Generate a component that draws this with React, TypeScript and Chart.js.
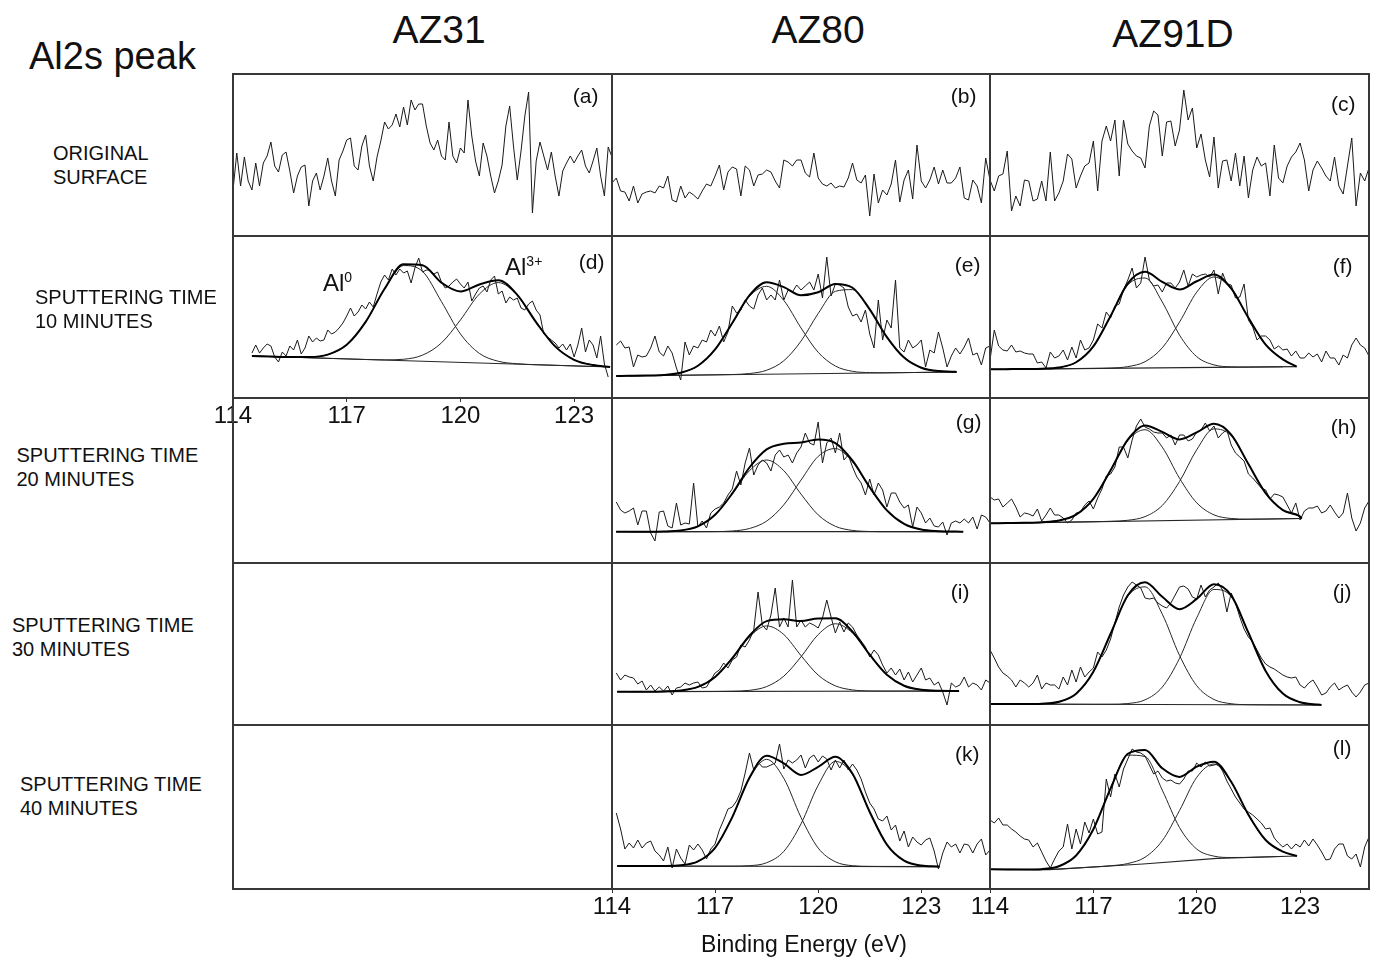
import React, { useEffect, useRef } from "react";
import { Chart, registerables } from "chart.js";

Chart.register(...registerables);

// ---------------- text ----------------
const FIGURE_TITLE = "Al2s peak";
const ALLOY_NAMES = ["AZ31", "AZ80", "AZ91D"];
const ROW_TITLES = [
  ["ORIGINAL", "SURFACE"],
  ["SPUTTERING TIME", "10 MINUTES"],
  ["SPUTTERING TIME", "20 MINUTES"],
  ["SPUTTERING TIME", "30 MINUTES"],
  ["SPUTTERING TIME", "40 MINUTES"],
];
const X_AXIS_TITLE = "Binding Energy (eV)";
const X_TICK_VALUES = [114, 117, 120, 123];

// ---------------- energy windows (eV) per column ----------------
const AZ31_ENERGY = [114, 124];
const AZ80_ENERGY = [114, 125];
const AZ91D_ENERGY = [114, 125];
const COLUMN_ENERGY = [AZ31_ENERGY, AZ80_ENERGY, AZ91D_ENERGY];

// ---------------- raw spectra (intensity, a.u.) ----------------
// (a) AZ31 original surface, 114.0 eV step 0.1
const rawA = [46,83,50,79,55,46,73,50,73,80,94,70,64,81,84,65,43,60,69,71,30,55,63,46,60,78,55,40,76,85,96,98,70,66,90,101,70,55,79,95,114,107,111,122,109,129,111,136,126,132,132,110,93,86,96,80,76,114,80,73,88,83,136,100,75,60,93,80,60,43,55,71,110,130,90,56,85,120,144,23,75,94,80,66,84,60,40,65,73,80,73,80,86,70,63,75,88,60,40,89,79];
// (b) AZ80 original surface, 114.0 eV step 0.125
const rawB = [53,58,45,44,35,50,33,42,44,45,43,50,48,60,36,34,50,38,44,41,37,45,52,50,60,71,46,64,69,67,40,70,66,50,61,62,66,64,55,48,76,74,70,76,76,63,59,83,58,52,50,53,48,50,49,58,73,56,53,61,20,62,33,46,41,52,76,34,56,66,37,91,55,48,56,69,52,66,53,53,58,69,38,36,56,50,33,78,56];
// (c) AZ91D original surface, 114.0 eV step 0.125
const rawC = [56,45,60,62,85,25,40,30,56,55,35,37,55,35,84,35,43,55,82,77,48,60,70,73,95,45,95,110,95,116,60,116,92,85,80,78,68,110,125,121,80,114,115,90,106,146,116,128,88,102,76,59,99,48,75,76,55,83,50,80,38,66,79,70,73,40,91,58,53,70,79,84,93,76,45,66,75,68,60,55,79,50,42,70,98,30,63,55,68];
// (d) AZ31 10 min, 114.5 eV step 0.1
const rawD = [45,53,45,50,54,52,41,36,46,42,52,48,58,44,50,62,56,60,57,58,68,64,66,70,75,82,90,82,86,93,89,96,91,104,116,123,118,129,123,129,125,127,115,130,140,126,128,128,124,126,116,110,112,116,119,114,110,116,97,104,110,112,106,118,122,104,107,95,101,98,100,90,88,94,97,88,83,64,61,58,55,50,54,48,54,41,53,70,46,58,53,40,62,34,21];
// (e) AZ80 10 min, 114.125 eV step 0.125
const rawE = [53,57,50,51,31,43,41,42,50,62,46,42,52,45,30,18,56,43,52,50,58,56,68,62,72,56,66,92,85,88,98,92,89,103,110,98,103,98,118,98,108,106,113,108,112,116,108,124,100,141,102,114,113,110,91,82,84,76,88,64,50,98,58,78,70,118,50,46,58,50,53,58,31,48,45,66,50,31,42,50,44,51,60,43,45,33,50,52];
// (f) AZ91D 10 min, 114.0 eV step 0.125
const rawF = [38,68,52,48,47,53,46,47,45,44,44,35,36,30,46,40,42,48,38,51,40,58,48,50,58,74,70,86,80,92,94,108,118,130,110,115,141,118,112,113,106,115,115,110,116,128,112,124,121,123,124,121,128,104,125,114,113,100,101,114,78,71,58,62,62,58,49,52,48,49,42,47,40,40,45,41,44,36,47,40,40,33,43,40,53,60,53,50,42];
// (g) AZ80 20 min, 114.125 eV step 0.125
const rawG = [61,53,50,52,55,38,52,52,30,22,51,52,37,35,60,38,40,39,80,36,42,35,50,54,56,60,68,74,92,78,100,115,88,98,103,100,92,108,113,106,108,100,110,116,130,120,118,141,100,120,125,110,130,103,108,96,86,80,68,84,68,80,73,56,70,70,61,55,58,36,56,50,40,45,37,36,41,28,40,42,40,44,40,46,34,48,46,40];
// (h) AZ91D 20 min, 114.0 eV step 0.125
const rawH = [66,63,64,56,60,64,56,46,50,49,47,54,42,48,55,48,48,45,40,43,50,51,58,62,54,65,74,87,89,96,116,116,105,123,137,144,136,134,131,130,130,125,128,118,128,128,122,124,131,133,140,132,137,125,130,133,118,110,106,102,89,85,80,75,73,64,69,68,66,58,50,60,43,52,55,55,57,50,52,58,51,45,50,70,45,32,40,55,62];
// (i) AZ80 30 min, 114.125 eV step 0.125
const rawI = [52,45,50,48,47,41,44,35,40,34,38,34,39,30,37,38,42,40,42,43,37,38,45,52,55,62,57,65,68,80,78,85,95,133,100,95,110,137,98,107,98,145,98,105,98,102,100,97,107,125,108,92,103,93,102,98,90,84,78,68,75,70,60,52,57,50,56,45,53,43,50,57,45,47,40,43,33,20,42,38,40,48,38,42,40,35,45,42];
// (j) AZ91D 30 min, 114.0 eV step 0.125
const rawJ = [75,67,58,52,49,45,38,45,42,38,42,50,36,42,40,40,36,48,40,55,43,58,48,53,57,73,68,75,86,102,118,130,138,143,140,137,127,126,127,122,119,117,122,130,138,139,136,128,126,140,128,135,138,142,135,113,132,122,108,96,88,83,75,67,61,58,56,53,50,48,47,48,40,37,42,45,38,30,32,38,42,35,38,40,33,28,33,40,42];
// (k) AZ80 40 min, 114.125 eV step 0.125
const rawK = [76,60,40,46,41,49,41,46,48,38,34,28,42,21,40,31,25,44,39,45,39,30,40,45,59,69,80,82,88,98,116,136,119,127,122,122,124,126,145,120,129,126,129,134,121,131,134,127,133,130,119,129,121,129,119,125,119,110,97,86,80,70,68,73,59,64,48,58,42,52,47,44,49,51,38,20,36,47,42,45,36,45,44,36,45,50,34,39];
// (l) AZ91D 40 min, 114.0 eV step 0.125
const rawL = [69,66,71,64,64,60,57,53,50,49,42,46,37,28,21,30,38,42,65,40,60,45,67,56,70,55,57,110,92,115,102,120,130,140,137,136,133,124,115,118,111,108,109,106,105,110,118,118,126,122,127,123,124,125,118,108,100,92,86,80,77,74,70,66,60,61,51,46,42,45,40,45,42,49,43,50,44,37,29,30,40,45,45,33,30,35,22,42,52];

// ---------------- fitted peaks: height above background at 114.5, 115.0, ... eV ----------------
const FIT_START = 114.5;
const FIT_STEP = 0.5;

const al0D = [0,0,0.1,0.7,3.7,14.1,37.6,71.1,95.1,89.9,60.2,28.5,9.6,2.3,0.4,0,0,0,0];
const al3D = [0,0,0,0,0,0,0,0.2,1.4,6.1,18.9,42.4,68.9,81,68.9,42.4,18.9,6.1,1.4];
const bgD = [[114.5, 42], [123.95, 31]];

const al0E = [0,0.1,0.5,2.5,9.3,25.4,51.6,78.1,87.9,73.6,45.9,21.3,7.4,1.9,0.4,0,0,0,0,0];
const al3E = [0,0,0,0,0,0,0.1,0.9,4.0,13.3,32.7,60.1,82.1,83.6,63.3,35.7,15.0,4.7,1.1,0.2];
const bgE = [[114.12, 22], [124.03, 26]];

const al0F = [0,0,0.2,1.2,6.3,22.0,52.1,83.2,90.0,65.9,32.6,10.9,2.5,0.4,0,0,0];
const al3F = [0,0,0,0,0,0,0.2,1.5,6.3,20.0,45.6,75.4,90.4,78.4,49.3,22.4,7.4];
const bgF = [[114.0, 28.7], [122.9, 31.3]];

const al0G = [0,0,0.2,1.3,5.4,16.8,37.6,61.0,71.7,61.0,37.6,16.8,5.4,1.3,0.2,0,0,0,0,0];
const al3G = [0,0,0,0,0,0.1,0.7,3.2,10.6,26.9,51.6,75.3,83.2,69.7,44.2,21.3,7.8,2.1,0.5,0.1];
const bgG = [[114.12, 31.3], [124.22, 31.3]];

const al0H = [0,0,0.3,1.7,7.4,22.9,51.0,80.7,91.2,73.5,42.2,17.3,5.0,1.1,0.2,0,0,0];
const al3H = [0,0,0,0,0,0,0.1,0.9,4.3,15.2,38.8,70.4,91.0,83.9,55.1,25.9,8.7,2.1];
const bgH = [[114.0, 39.7], [123.05, 44.5]];

const al0I = [0,0,0.2,1.1,4.6,14.5,33.0,54.6,65.5,56.8,35.7,16.2,5.4,1.3,0.2,0,0,0,0,0];
const al3I = [0,0,0,0,0,0,0.2,1.1,4.8,15.2,34.5,56.7,67.5,58.2,36.3,16.4,5.4,1.3,0.2,0];
const bgI = [[114.15, 33.3], [124.1, 34]];

const al0J = [0,0,0.4,2.4,10.6,32.5,70.5,108.2,117.6,90.4,49.2,18.9,5.2,1.0,0.1,0,0,0,0];
const al3J = [0,0,0,0,0,0,0.1,0.9,4.6,17.4,46.2,86.8,115.2,108.3,72.0,33.9,11.3,2.7,0.4];
const bgJ = [[114.0, 21], [123.62, 20]];

const al0K = [0,0,0.1,0.8,4.7,18.4,49.0,88.0,107,88.0,49.0,18.4,4.7,0.8,0.1,0,0,0,0];
const al3K = [0,0,0,0,0,0,0.1,0.6,3.6,15.0,42.5,81.2,105.1,92.0,54.5,21.9,5.9,1.1,0.1];
const bgK = [[114.15, 23], [123.53, 22.3]];

const al0L = [0,0,0.5,2.9,12.6,37.7,77.4,109.8,107.3,72.4,33.7,10.8,2.4,0.4,0,0,0,0];
const al3L = [0,0,0,0,0,0,0.2,1.4,6.6,21.8,50.6,82.5,94.5,75.8,42.7,16.9,4.7,0.9];
const bgL = [[114.0, 19.7], [115.72, 19.3], [118.44, 25], [120.59, 30.7], [122.91, 33]];

// ---------------- panel table ----------------
type Fit = { al0: number[]; al3: number[]; bg: number[][] };
type PanelSpec = {
  tag: string; row: number; col: number;
  raw: number[]; start: number; step: number;
  fit?: Fit; axis?: boolean;
  tagRight: number; tagMid: number;
};

const PANELS: PanelSpec[] = [
  { tag: "(a)", row: 0, col: 0, raw: rawA, start: 114.0, step: 0.1, tagRight: 597, tagMid: 97 },
  { tag: "(b)", row: 0, col: 1, raw: rawB, start: 114.0, step: 0.125, tagRight: 975, tagMid: 97 },
  { tag: "(c)", row: 0, col: 2, raw: rawC, start: 114.0, step: 0.125, tagRight: 1354, tagMid: 105 },
  { tag: "(d)", row: 1, col: 0, raw: rawD, start: 114.5, step: 0.1, fit: { al0: al0D, al3: al3D, bg: bgD }, axis: true, tagRight: 603, tagMid: 263 },
  { tag: "(e)", row: 1, col: 1, raw: rawE, start: 114.125, step: 0.125, fit: { al0: al0E, al3: al3E, bg: bgE }, tagRight: 979, tagMid: 266 },
  { tag: "(f)", row: 1, col: 2, raw: rawF, start: 114.0, step: 0.125, fit: { al0: al0F, al3: al3F, bg: bgF }, tagRight: 1351, tagMid: 267 },
  { tag: "(g)", row: 2, col: 1, raw: rawG, start: 114.125, step: 0.125, fit: { al0: al0G, al3: al3G, bg: bgG }, tagRight: 980, tagMid: 423 },
  { tag: "(h)", row: 2, col: 2, raw: rawH, start: 114.0, step: 0.125, fit: { al0: al0H, al3: al3H, bg: bgH }, tagRight: 1355, tagMid: 428 },
  { tag: "(i)", row: 3, col: 1, raw: rawI, start: 114.125, step: 0.125, fit: { al0: al0I, al3: al3I, bg: bgI }, tagRight: 968, tagMid: 593 },
  { tag: "(j)", row: 3, col: 2, raw: rawJ, start: 114.0, step: 0.125, fit: { al0: al0J, al3: al3J, bg: bgJ }, tagRight: 1350, tagMid: 593 },
  { tag: "(k)", row: 4, col: 1, raw: rawK, start: 114.125, step: 0.125, fit: { al0: al0K, al3: al3K, bg: bgK }, axis: true, tagRight: 978, tagMid: 755 },
  { tag: "(l)", row: 4, col: 2, raw: rawL, start: 114.0, step: 0.125, fit: { al0: al0L, al3: al3L, bg: bgL }, axis: true, tagRight: 1350, tagMid: 749 },
];

// ---------------- layout ----------------
const COL_X = [233, 612, 990, 1369];
const ROW_Y = [74, 236, 398, 563, 725, 889];
const PADX = 30;
const AXIS_H = 40;
const FONT = '"Liberation Sans", Arial, Helvetica, sans-serif';

function bgAt(bg: number[][], x: number) {
  for (let i = 0; i < bg.length - 1; i++) {
    const [x0, y0] = bg[i];
    const [x1, y1] = bg[i + 1];
    if (x <= x1 || i === bg.length - 2) return y0 + ((y1 - y0) * (x - x0)) / (x1 - x0);
  }
  return bg[0][1];
}

function Panel({ spec }: { spec: PanelSpec }) {
  const ref = useRef<HTMLCanvasElement>(null);
  const left = COL_X[spec.col];
  const w = COL_X[spec.col + 1] - left;
  const top = ROW_Y[spec.row];
  const h = ROW_Y[spec.row + 1] - top;
  const cw = w + 2 * PADX;
  const ch = h + (spec.axis ? AXIS_H : 0);

  useEffect(() => {
    const canvas = ref.current;
    if (!canvas) return;
    const mk = (data: any[], width: number, color: string, smooth: boolean) => ({
      data,
      borderColor: color,
      borderWidth: width,
      pointRadius: 0,
      fill: false,
      tension: 0,
      cubicInterpolationMode: smooth ? "monotone" : "default",
    });
    const datasets: any[] = [];
    if (spec.fit) {
      const { al0, al3, bg } = spec.fit;
      const x0 = bg[0][0];
      const x1 = bg[bg.length - 1][0];
      const c1: any[] = [];
      const c2: any[] = [];
      const env: any[] = [];
      for (let i = 0; i < al0.length; i++) {
        const x = +(FIT_START + i * FIT_STEP).toFixed(3);
        if (x < x0 - 1e-6 || x > x1 + 1e-6) continue;
        const b = bgAt(bg, x);
        c1.push({ x, y: b + al0[i] });
        c2.push({ x, y: b + al3[i] });
        env.push({ x, y: b + al0[i] + al3[i] });
      }
      if (env.length && Math.abs(env[0].x - x0) > 1e-6) env.unshift({ x: x0, y: bg[0][1] });
      if (env.length && Math.abs(env[env.length - 1].x - x1) > 1e-6) env.push({ x: x1, y: bg[bg.length - 1][1] });
      datasets.push(mk(env, 2, "#000", true));
      datasets.push(mk(c1, 1, "#262626", true));
      datasets.push(mk(c2, 1, "#262626", true));
      datasets.push(mk(bg.map(([x, y]) => ({ x, y })), 1.2, "#262626", false));
    }
    const raw = spec.raw.map((y, i) => ({ x: +(spec.start + i * spec.step).toFixed(3), y }));
    datasets.push(mk(raw, 1, "#1a1a1a", false));

    const range = COLUMN_ENERGY[spec.col];
    const showAxis = !!spec.axis;
    const chart = new Chart(canvas, {
      type: "line",
      data: { datasets },
      options: {
        animation: false,
        responsive: false,
        maintainAspectRatio: false,
        events: [],
        layout: { padding: { left: PADX, right: PADX, top: 0, bottom: 0 }, autoPadding: false },
        plugins: { legend: { display: false }, tooltip: { enabled: false }, title: { display: false } },
        scales: {
          x: {
            type: "linear",
            min: range[0],
            max: range[1],
            display: showAxis,
            afterBuildTicks: (s: any) => {
              s.ticks = X_TICK_VALUES.map((v) => ({ value: v }));
            },
            afterFit: (s: any) => {
              s.height = showAxis ? AXIS_H : 0;
            },
            grid: { display: true, drawOnChartArea: false, drawTicks: true, tickLength: 4, color: "#333" },
            border: { display: false },
            ticks: {
              autoSkip: false,
              maxRotation: 0,
              minRotation: 0,
              padding: 0,
              color: "#111",
              font: { family: FONT, size: 24 },
              callback: (v: any) => String(v),
            },
          },
          y: { display: false, min: 0, max: h },
        },
      } as any,
    });
    return () => chart.destroy();
  }, [spec]);

  return (
    <canvas
      ref={ref}
      width={cw}
      height={ch}
      style={{ position: "absolute", left: left - PADX, top, width: cw, height: ch }}
    />
  );
}

const PAGE_W = 1377;

export default function App() {
  const lineColor = "#383838";
  const text = (s: React.CSSProperties): React.CSSProperties => ({
    position: "absolute",
    fontFamily: FONT,
    color: "#111",
    whiteSpace: "nowrap",
    lineHeight: 1,
    ...s,
  });
  const titleCenters = [439, 818, 1173];
  const titleTops = [10, 10, 14];
  const rowLeft = [53, 35, 16.5, 12, 20];
  const rowTop = [141, 285, 443, 613, 772];
  return (
    <div style={{ position: "absolute", left: 0, top: 0, width: PAGE_W, height: 963, background: "#fff", overflow: "hidden" }}>
      {PANELS.map((p) => (
        <Panel key={p.tag} spec={p} />
      ))}
      {COL_X.map((x) => (
        <div key={"v" + x} style={{ position: "absolute", left: x - 1, top: ROW_Y[0] - 1, width: 2, height: ROW_Y[5] - ROW_Y[0] + 2, background: lineColor }} />
      ))}
      {ROW_Y.map((y) => (
        <div key={"h" + y} style={{ position: "absolute", left: COL_X[0] - 1, top: y - 1, width: COL_X[3] - COL_X[0] + 2, height: 2, background: lineColor }} />
      ))}
      <div style={text({ left: 29, top: 37, fontSize: 38 })}>{FIGURE_TITLE}</div>
      {ALLOY_NAMES.map((n, i) => (
        <div key={n} style={text({ left: titleCenters[i], top: titleTops[i], fontSize: 39, transform: "translateX(-50%)" })}>{n}</div>
      ))}
      {ROW_TITLES.map((lines, i) => (
        <div key={"r" + i} style={text({ left: rowLeft[i], top: rowTop[i], fontSize: 20, lineHeight: "24px" })}>
          {lines[0]}
          <br />
          {lines[1]}
        </div>
      ))}
      {PANELS.map((p) => (
        <div key={"t" + p.tag} style={text({ right: PAGE_W - (p.tagRight + 1.5), top: p.tagMid - 12.3, fontSize: 21 })}>{p.tag}</div>
      ))}
      <div style={text({ left: 323, top: 270.7, fontSize: 24 })}>
        Al<span style={{ fontSize: 14, position: "relative", top: -9 }}>0</span>
      </div>
      <div style={text({ left: 505, top: 254.7, fontSize: 24 })}>
        Al<span style={{ fontSize: 14, position: "relative", top: -9 }}>3+</span>
      </div>
      <div style={text({ left: 804, top: 933, fontSize: 23, transform: "translateX(-50%)" })}>{X_AXIS_TITLE}</div>
    </div>
  );
}
